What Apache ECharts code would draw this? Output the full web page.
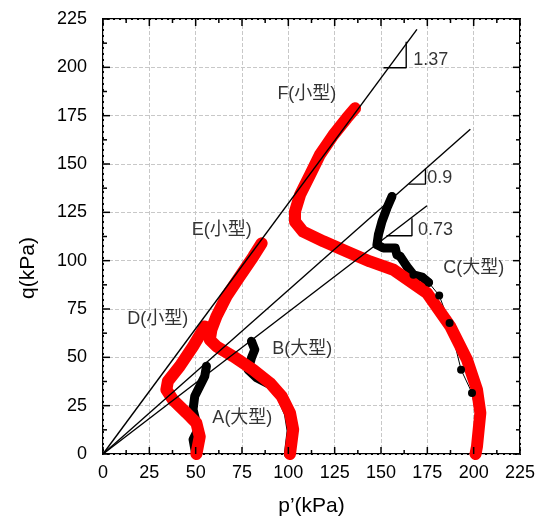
<!DOCTYPE html>
<html>
<head>
<meta charset="utf-8">
<script src="https://cdn.jsdelivr.net/npm/echarts@6/dist/echarts.min.js"></script>
<style>
  html, body { margin: 0; padding: 0; background: #fff; }
  #main { width: 550px; height: 522px; }
</style>
</head>
<body>
<div id="main"></div>
<script>
// stress paths, [p', q] in kPa
var pathA = [[50,0],[48.6,7.5],[51.3,12.7],[50.4,16.1],[48.6,23],[49.5,29.9],[52.2,35],[54.9,40.2],[55.8,45.4]];
var pathB = [[100,0],[101.5,12],[100,21],[96,30],[90,35.9],[82.9,39.4],[78.3,43.6],[80.1,49.7],[81.9,54],[80.1,58.3]];
var pathC = [[200,0],[201.5,12],[201,22],[199.1,31.6],[193.2,43.6],[187,67.8],[181.4,82],[175.7,88.7],[172.1,91.5],[167.5,92.7],[164,97],[160.4,102.2],[158.6,103],[157.7,106.5],[151.3,106.5],[147.8,108.2],[148.6,113.4],[150.5,120.2],[153.2,127.2],[155.9,133.2]];
var pathD = [[50.4,0],[52.2,9],[50.4,16],[45,21.3],[37.8,28],[34.2,33.3],[35,37.6],[41.4,45.4],[48.6,55.7],[54,64.3],[55,66]];
var pathE = [[100.9,0],[102.6,12.7],[100.9,21.3],[96.4,29.9],[90,36.8],[81,43.6],[70.2,50.5],[61.2,55.7],[57.6,59.1],[58.5,64.3],[61.2,71.2],[66.6,81.5],[73.8,91.8],[81,102],[85.6,109]];
var pathF = [[201,0],[201.8,4],[203.6,21.3],[201.8,33.3],[196.4,48.8],[187.4,66],[174.8,83.3],[156.7,95.3],[144,99.6],[131.5,104.8],[118.9,110],[108,115],[103.6,120.2],[103.6,125.4],[106.3,134],[111.7,144.4],[117,154.7],[124.3,165],[131.5,173.7],[136,178.8]];

// failure lines and slope triangles
var line137 = [[0,0],[169.4,219.6]];
var line090 = [[0,0],[198.2,168]];
var line073 = [[0,0],[174.8,128.4]];
var tri137 = [[151.3,199.8],[163.6,199.8],[163.6,213.2]];
var tri090 = [[165,139.6],[174,139.6],[174,147.5]];
var tri073 = [[153,112.9],[166.7,112.9],[166.7,122]];

var pathNames = ['A(大型)','B(大型)','C(大型)','D(小型)','E(小型)','F(小型)'];
var pathLabelAt = [[75.2,18.7],[107.5,54.5],[200,96.3],[29.5,70],[64.1,116],[110,186]];
var slopeNames = ['1.37','0.9','0.73'];
var slopeLabelAt = [[167.4,204],[175,143],[170,116]];

// axis ticks (same on both axes), plus one minor tick between each pair
var majorTicks = [0, 25, 50, 75, 100, 125, 150, 175, 200, 225];
var allTicks = [];
majorTicks.forEach(function (t, i) {
  allTicks.push([t, 1]);
  if (i < majorTicks.length - 1) allTicks.push([(t + majorTicks[i + 1]) / 2, 0]);
});

var FONT = '"Liberation Sans", "Noto Sans CJK JP", sans-serif';

var dom = document.getElementById('main');
var myChart = echarts.init(dom, null, { renderer: 'canvas' });

function thick(data, color, w) {
  return {
    type: 'line', data: data, showSymbol: false, symbol: 'none', silent: true,
    lineStyle: { color: color, width: w, cap: 'round', join: 'round' }
  };
}
function thin(data) {
  return {
    type: 'line', data: data, showSymbol: false, symbol: 'none', silent: true,
    lineStyle: { color: '#000', width: 1.4 }, z: 5
  };
}

function mainAxis(pos) {
  return {
    type: 'value', min: 0, max: 225, interval: 25, position: pos,
    axisLine: { show: false },
    axisTick: { show: false },
    splitLine: { show: true, lineStyle: { type: 'dashed', color: '#c8c8c8' } },
    axisLabel: { fontSize: 18, color: '#000', fontFamily: FONT, margin: pos === 'left' ? 16 : 10 }
  };
}

// inward ticks on all four sides of the frame
function renderTicks(params, api) {
  var v = api.value(0);
  var len = api.value(1) ? 7 : 4;
  var b = api.coord([v, 0]), t = api.coord([v, 225]);
  var l = api.coord([0, v]), r = api.coord([225, v]);
  var st = { stroke: '#000', lineWidth: 1.5 };
  return {
    type: 'group',
    children: [
      { type: 'line', shape: { x1: b[0], y1: b[1], x2: b[0], y2: b[1] - len }, style: st },
      { type: 'line', shape: { x1: t[0], y1: t[1], x2: t[0], y2: t[1] + len }, style: st },
      { type: 'line', shape: { x1: l[0], y1: l[1], x2: l[0] + len, y2: l[1] }, style: st },
      { type: 'line', shape: { x1: r[0], y1: r[1], x2: r[0] - len, y2: r[1] }, style: st }
    ]
  };
}

var xMain = mainAxis('bottom');
xMain.name = 'p’(kPa)';
xMain.nameLocation = 'middle';
xMain.nameGap = 42;
xMain.nameTextStyle = { fontSize: 21, color: '#000', fontFamily: FONT };

var option = {
  animation: false,
  grid: { left: 103, right: 30, top: 19, bottom: 67, show: true, borderColor: '#000', borderWidth: 2, backgroundColor: 'transparent' },
  xAxis: xMain,
  yAxis: mainAxis('left'),
  graphic: [{
    type: 'text', x: 28, y: 268, rotation: Math.PI / 2,
    style: { text: 'q(kPa)', fill: '#000', font: '21px ' + FONT, align: 'center', verticalAlign: 'middle' }
  }],
  series: [
    { type: 'custom', data: allTicks, renderItem: renderTicks, clip: false, silent: true, z: 8 },
    thick(pathA, '#000', 9),
    thick(pathB, '#000', 9),
    thick(pathC.slice(7), '#000', 9),
    {
      type: 'line', silent: true, symbol: 'circle', symbolSize: 8,
      data: pathC.map(function (v, i) { return i < 3 ? { value: v, symbol: 'none' } : v; }),
      itemStyle: { color: '#000' }, lineStyle: { color: '#000', width: 1 }
    },
    thick(pathD, '#ff0000', 12),
    thick(pathE, '#ff0000', 12),
    thick(pathF, '#ff0000', 12),
    thin(line137), thin(line090), thin(line073),
    thin(tri137), thin(tri090), thin(tri073),
    {
      type: 'scatter', symbolSize: 0, silent: true, z: 6,
      data: pathNames.map(function (n, i) { return { name: n, value: pathLabelAt[i] }; }),
      label: { show: true, position: 'inside', formatter: '{b}', fontSize: 18, color: '#000', fontFamily: FONT }
    },
    {
      type: 'scatter', symbolSize: 0, silent: true, z: 6,
      data: slopeNames.map(function (n, i) { return { name: n, value: slopeLabelAt[i] }; }),
      label: { show: true, position: 'right', distance: 0, formatter: '{b}', fontSize: 18, color: '#000', fontFamily: FONT }
    }
  ]
};

myChart.setOption(option);
window.onresize = myChart.resize;
</script>
</body>
</html>
